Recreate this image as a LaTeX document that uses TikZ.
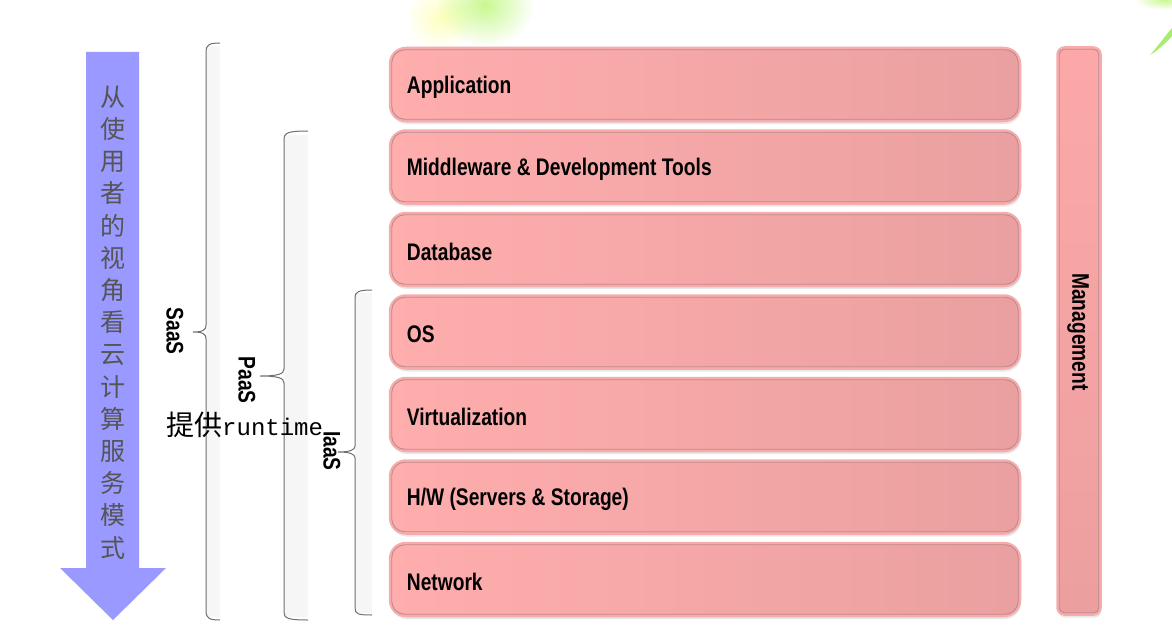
\documentclass[tikz,border=0pt]{standalone}
\usepackage{fontspec}
\setmainfont{Liberation Sans}
\newfontfamily\cjk{Noto Sans CJK SC}
\newfontfamily\mymono{Liberation Mono}
\usetikzlibrary{shadows}
\definecolor{arrowblue}{HTML}{9999FF}
\definecolor{cjkgray}{HTML}{555555}
\definecolor{boxL}{HTML}{FFADAD}
\definecolor{boxR}{HTML}{EAA0A0}
\definecolor{boxedge}{HTML}{F6ACAC}
\definecolor{boxinner}{HTML}{C08A8A}
\definecolor{mgmtT}{HTML}{FCA8A8}
\definecolor{mgmtB}{HTML}{EC9F9F}
\definecolor{bracecol}{HTML}{707070}
\definecolor{bracefill}{HTML}{F6F6F6}
\definecolor{leafgreen}{HTML}{C8F890}
\definecolor{leafdeep}{HTML}{A8EC70}
\definecolor{leafyellow}{HTML}{FFFFC0}
\begin{document}
\begin{tikzpicture}[x=1pt,y=-1pt,
  layerbox/.style={draw=boxedge, line width=2.5pt, rounded corners=16pt,
    left color=boxL, right color=boxR, minimum width=630pt, minimum height=73pt,
    drop shadow={shadow xshift=1pt, shadow yshift=-3pt, opacity=0.18}},
  innerline/.style={draw=boxinner, line width=0.9pt, rounded corners=13pt},
  layerlabel/.style={font=\bfseries\fontsize{24}{26}\selectfont, xscale=0.8, anchor=west, inner sep=0pt},
  sidelabel/.style={font=\bfseries\fontsize{24}{26}\selectfont, rotate=-90, xscale=0.8, inner sep=0pt},
  bracel/.style={draw=bracecol, line width=1pt},
]
\useasboundingbox (0,0) rectangle (1172,642);
\fill[white] (0,0) rectangle (1172,642);
% background tints
\begin{scope}[blend mode=multiply]
\shade[inner color=leafyellow, outer color=white] (440,18) ellipse [x radius=35, y radius=32];
\shade[inner color=leafgreen, outer color=white] (485,5) ellipse [x radius=50, y radius=42];
\shade[inner color=leafgreen, outer color=white] (1165,0) ellipse [x radius=30, y radius=10];
\end{scope}
\fill[leafdeep] (1150,55) .. controls (1158,46) and (1165,36) .. (1172,28) -- (1172,36)
  .. controls (1165,44) and (1158,50) .. (1150,55) -- cycle;

% big arrow
\fill[arrowblue] (86,52) -- (139,52) -- (139,568) -- (166,568) -- (113,620) -- (60,568) -- (86,568) -- cycle;
\node[font=\cjk\fontsize{25}{32.2}\selectfont, text=cjkgray, align=center, inner sep=0pt] (view) at (113,322.5)
  {从\\使\\用\\者\\的\\视\\角\\看\\云\\计\\算\\服\\务\\模\\式};

% braces
\fill[bracefill] (206,46) rectangle (220,617);
\draw[bracel] (220,43) .. controls (209,43) and (206,45) .. (206,52) -- (206,325)
  .. controls (206,330) and (203,332) .. (193,332) .. controls (203,332) and (206,334) .. (206,339)
  -- (206,611) .. controls (206,618) and (209,620) .. (220,620);
\fill[bracefill] (284,135) rectangle (308,617);
\draw[bracel] (308,131) .. controls (287,131) and (284,133) .. (284,140) -- (284,369)
  .. controls (284,374) and (278,376) .. (260,376) .. controls (278,376) and (284,378) .. (284,383)
  -- (284,612) .. controls (284,618) and (287,620) .. (308,620);
\fill[bracefill] (355,293) rectangle (372,613);
\draw[bracel] (372,290) .. controls (358,290) and (355,292) .. (355,298) -- (355,446)
  .. controls (355,450) and (350,452) .. (338,452) .. controls (350,452) and (355,454) .. (355,458)
  -- (355,608) .. controls (355,614) and (358,615) .. (372,615);

\node[sidelabel] (saas) at (175,331) {SaaS};
\node[sidelabel] (paas) at (247,380) {PaaS};
\node[sidelabel] (iaas) at (332,451) {IaaS};
\node[anchor=west, inner sep=0pt] (runtime) at (166,425)
  {{\cjk\fontsize{28}{30}\selectfont 提供}{\mymono\fontsize{24}{30}\selectfont runtime}};

% layers
\foreach \nm/\yc/\txt in {app/84.5/{Application}, mid/167/{Middleware \& Development Tools},
  db/249.5/{Database}, os/332/{OS}, virt/414.5/{Virtualization}, hw/497/{H/W (Servers \& Storage)},
  net/579.5/{Network}}{
  \node[layerbox] (\nm) at (705,\yc) {};
  \draw[innerline] ([shift={(3,3)}]\nm.north west) rectangle ([shift={(-3,-3)}]\nm.south east);
  \node[layerlabel] (\nm-t) at ([shift={(18pt,-2.5pt)}]\nm.west) {\txt};
}

% management
\node[draw=boxedge, line width=2.5pt, rounded corners=7pt, top color=mgmtT, bottom color=mgmtB,
  minimum width=43pt, minimum height=567pt,
  drop shadow={shadow xshift=1pt, shadow yshift=-3pt, opacity=0.18}] (mgmt) at (1079,331) {};
\draw[innerline, rounded corners=5pt] ([shift={(3,3)}]mgmt.north west) rectangle ([shift={(-3,-3)}]mgmt.south east);
\node[sidelabel] (mgmt-t) at (1078,332) {Management};
\end{tikzpicture}
\end{document}
